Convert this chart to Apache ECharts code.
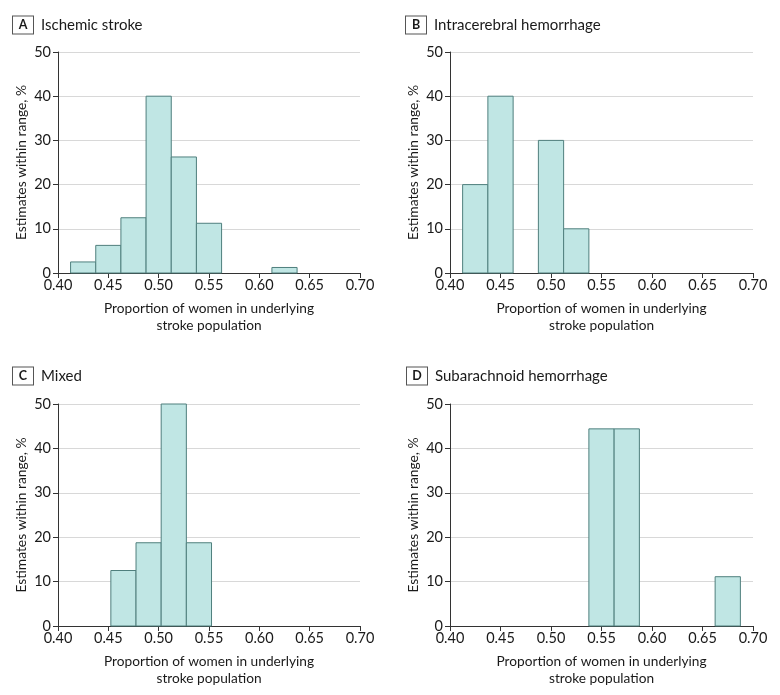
<!DOCTYPE html>
<html>
<head>
<meta charset="utf-8">
<script src="https://cdn.jsdelivr.net/npm/echarts@6/dist/echarts.min.js"></script>
<style>html,body{margin:0;padding:0;background:#fff}#c{width:780px;height:695px}</style>
</head>
<body>
<div id="c"></div>
<script>
// Bin centers (proportion of women) and percentages per panel; bin width 0.025
var binWidth = 0.025;
var panelLetters = ['A', 'B', 'C', 'D'];
var panelTitles = ['Ischemic stroke', 'Intracerebral hemorrhage', 'Mixed', 'Subarachnoid hemorrhage'];
var ischemicCenters = [0.425, 0.45, 0.475, 0.50, 0.525, 0.55, 0.625];
var ischemicValues = [2.5, 6.25, 12.5, 40, 26.25, 11.25, 1.25];
var ichCenters = [0.425, 0.45, 0.50, 0.525];
var ichValues = [20, 40, 30, 10];
var mixedCenters = [0.465, 0.49, 0.515, 0.54];
var mixedValues = [12.5, 18.75, 50, 18.75];
var sahCenters = [0.55, 0.575, 0.675];
var sahValues = [44.4, 44.4, 11.1];
var xTicks = [0.40, 0.45, 0.50, 0.55, 0.60, 0.65, 0.70];
var yTicks = [0, 10, 20, 30, 40, 50];

var FONT = 'Lato';
var centersList = [ischemicCenters, ichCenters, mixedCenters, sahCenters];
var valuesList = [ischemicValues, ichValues, mixedValues, sahValues];
var grids = [
  {left: 58, top: 52, width: 302, height: 221},
  {left: 450, top: 52, width: 303, height: 221},
  {left: 58, top: 404, width: 302, height: 222},
  {left: 450, top: 404, width: 303, height: 222}
];
var titlePos = [
  {left: 13, top: 16},
  {left: 406, top: 16},
  {left: 13, top: 367},
  {left: 407, top: 367}
];

var option = {
  backgroundColor: '#fff',
  animation: false,
  title: [], grid: [], xAxis: [], yAxis: [], series: []
};

for (var i = 0; i < 4; i++) {
  option.title.push({
    left: titlePos[i].left, top: titlePos[i].top,
    padding: 0,
    text: '{box|' + panelLetters[i] + '}{t|' + panelTitles[i] + '}',
    textStyle: {
      fontWeight: 'normal',
      rich: {
        box: {fontFamily: FONT, fontWeight: 'bold', fontSize: 12.5, color: '#1a1a1a',
              borderColor: '#555', borderWidth: 1, width: 20, height: 17, align: 'center',
              lineHeight: 18, backgroundColor: '#fff'},
        t: {fontFamily: FONT, fontWeight: 'normal', fontSize: 15, color: '#1a1a1a', padding: [0, 0, 0, 8], lineHeight: 18}
      }
    }
  });
  option.grid.push(Object.assign({containLabel: false}, grids[i]));
  option.xAxis.push({
    type: 'value', gridIndex: i, min: 0.40, max: 0.70, interval: 0.05,
    name: 'Proportion of women in underlying\nstroke population',
    nameLocation: 'middle', nameGap: 27,
    nameTextStyle: {fontFamily: FONT, fontSize: 13.7, color: '#1a1a1a', lineHeight: 17},
    axisLine: {show: true, onZero: false, lineStyle: {color: '#333', width: 1}},
    axisTick: {show: true, length: 5, lineStyle: {color: '#333'}},
    axisLabel: {fontFamily: FONT, fontSize: 14.5, color: '#1a1a1a', margin: 5,
      formatter: function (v) { return v.toFixed(2); }},
    splitLine: {show: false}
  });
  option.yAxis.push({
    type: 'value', gridIndex: i, min: 0, max: 50, interval: 10,
    name: 'Estimates within range, %',
    nameLocation: 'middle', nameGap: 29,
    nameTextStyle: {fontFamily: FONT, fontSize: 13.8, color: '#1a1a1a'},
    axisLine: {show: true, lineStyle: {color: '#333', width: 1}},
    axisTick: {show: true, length: 5, lineStyle: {color: '#333'}},
    axisLabel: {fontFamily: FONT, fontSize: 14.5, color: '#1a1a1a', margin: 7},
    splitLine: {show: true, lineStyle: {color: '#d8d8d8', width: 1}}
  });
  var data = centersList[i].map(function (c, k) { return [c, valuesList[i][k]]; });
  option.series.push({
    type: 'custom', xAxisIndex: i, yAxisIndex: i, data: data,
    renderItem: function (params, api) {
      var c = api.value(0), v = api.value(1);
      var p0 = api.coord([c - binWidth / 2, v]);
      var p1 = api.coord([c + binWidth / 2, 0]);
      return {
        type: 'rect',
        shape: {x: p0[0], y: p0[1], width: p1[0] - p0[0], height: p1[1] - p0[1]},
        style: {fill: '#c0e6e4', stroke: '#4f7f7d', lineWidth: 1}
      };
    }
  });
}

var chart = echarts.init(document.getElementById('c'), null, {renderer: 'canvas'});
chart.setOption(option);
</script>
</body>
</html>
